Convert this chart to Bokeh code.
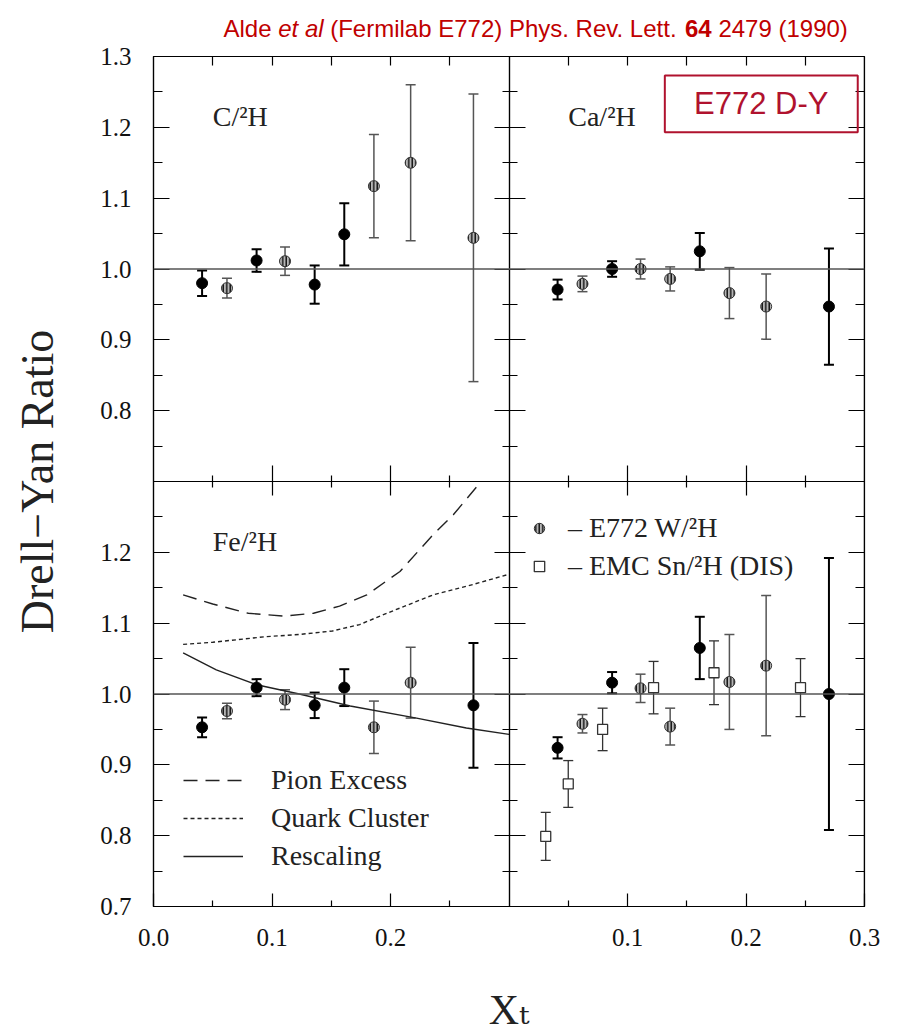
import numpy as np
from bokeh.plotting import figure
from bokeh.layouts import column
from bokeh.models import (Range1d, LinearAxis, FixedTicker, PrintfTickFormatter, Span,
                          Whisker, TeeHead, ColumnDataSource, Label, BoxAnnotation,
                          Legend, LegendItem)
from bokeh.core.properties import value
from bokeh.embed import file_html
from bokeh.resources import INLINE

# ---------------- data ----------------
xt_bins = [0.041, 0.062, 0.087, 0.111, 0.136, 0.161, 0.186, 0.217, 0.270]

c_ratio = [0.980, 0.973, 1.012, 1.011, 0.978, 1.049, 1.117, 1.150, 1.044]
c_err = [0.018, 0.014, 0.016, 0.020, 0.027, 0.044, 0.073, 0.110, 0.203]
c_kind = ["filled", "hatched", "filled", "hatched", "filled", "filled", "hatched", "hatched", "hatched"]

ca_ratio = [0.971, 0.979, 1.000, 1.000, 0.986, 1.025, 0.966, 0.947, 0.947]
ca_err = [0.014, 0.011, 0.011, 0.014, 0.017, 0.026, 0.036, 0.046, 0.082]
ca_kind = ["filled", "hatched", "filled", "hatched", "hatched", "filled", "hatched", "hatched", "filled"]

fe_ratio = [0.953, 0.976, 1.009, 0.992, 0.984, 1.009, 0.953, 1.016, 0.984]
fe_err = [0.014, 0.011, 0.012, 0.014, 0.018, 0.026, 0.037, 0.050, 0.088]
fe_kind = ["filled", "hatched", "filled", "hatched", "filled", "filled", "hatched", "hatched", "filled"]

w_ratio = [0.924, 0.958, 1.016, 1.008, 0.954, 1.065, 1.017, 1.040, 1.000]
w_err = [0.015, 0.013, 0.015, 0.020, 0.026, 0.044, 0.067, 0.099, 0.192]
w_kind = ["filled", "hatched", "filled", "hatched", "hatched", "filled", "hatched", "hatched", "filled"]

emc_xt = [0.031, 0.050, 0.079, 0.122, 0.173, 0.246]
emc_ratio = [0.799, 0.873, 0.950, 1.009, 1.030, 1.009]
emc_err = [0.034, 0.033, 0.030, 0.037, 0.045, 0.041]

pion_xt = [0.025, 0.05, 0.08, 0.11, 0.135, 0.157, 0.18, 0.208, 0.236, 0.253, 0.273]
pion_ratio = [1.140, 1.127, 1.114, 1.110, 1.114, 1.124, 1.140, 1.173, 1.225, 1.253, 1.293]
quark_xt = [0.025, 0.05, 0.095, 0.123, 0.151, 0.174, 0.194, 0.236, 0.264, 0.30]
quark_ratio = [1.070, 1.073, 1.081, 1.084, 1.089, 1.098, 1.112, 1.140, 1.152, 1.169]
resc_xt = [0.025, 0.053, 0.087, 0.123, 0.166, 0.222, 0.264, 0.30]
resc_ratio = [1.058, 1.034, 1.013, 1.000, 0.983, 0.966, 0.952, 0.943]

y_ticks_top = [0.8, 0.9, 1.0, 1.1, 1.2, 1.3]
y_ticks_bottom = [0.7, 0.8, 0.9, 1.0, 1.1, 1.2]
y_ticks_all = [0.7, 0.8, 0.9, 1.0, 1.1, 1.2, 1.3]
y_minor = [0.75, 0.85, 0.95, 1.05, 1.15, 1.25]
x_ticks_left = [0.0, 0.1, 0.2]
x_ticks_right = [0.1, 0.2, 0.3]
x_ticks_inner = [0.1, 0.2]
x_minor = [0.05, 0.15, 0.25]

panel_names = ["C/²H", "Ca/²H", "Fe/²H"]
citation = ["Alde", "et al", "(Fermilab E772) Phys. Rev. Lett.", "64", "2479 (1990)"]
citation_style = ["normal", "italic", "normal", "bold", "normal"]
legend_theory = ["Pion Excess", "Quark Cluster", "Rescaling"]
legend_data = ["– E772 W/²H", "– EMC Sn/²H (DIS)"]

SERIF = "Liberation Serif"
PANEL_SHIFT_X = 0.3   # right panels sit 0.3 further along the shared x scale
PANEL_SHIFT_Y = 0.6   # top panels sit 0.6 higher on the shared y scale
FRAME_L, FRAME_W, FRAME_R = 153, 711, 36

# ---------------- citation strip (x in page pixels) ----------------
cite_fig = figure(frame_width=FRAME_W, frame_height=44,
                  min_border_left=FRAME_L, min_border_right=FRAME_R,
                  min_border_top=0, min_border_bottom=0,
                  x_range=Range1d(FRAME_L, FRAME_L + FRAME_W), y_range=Range1d(0, 44),
                  x_axis_type=None, y_axis_type=None, toolbar_location=None,
                  output_backend="svg", outline_line_color=None)
cite_fig.text(x=[223, 277.7, 329.7, 684.5, 717.9], y=[16] * 5,
              text=citation, text_font_style=citation_style,
              text_font=value("Liberation Sans"), text_font_size="24px",
              text_color="#C00000", text_baseline="alphabetic", text_align="left")

# ---------------- main figure ----------------
p = figure(frame_width=FRAME_W, frame_height=850, min_border_left=FRAME_L,
           min_border_right=FRAME_R, min_border_top=12, min_border_bottom=128,
           x_range=Range1d(0, 0.6), y_range=Range1d(0.7, 1.9),
           x_axis_type=None, y_axis_type=None, toolbar_location=None,
           output_backend="svg", outline_line_color="black", outline_line_width=1.2,
           background_fill_color="white", border_fill_color="white")
p.extra_x_ranges = {"right": Range1d(-0.3, 0.3)}
p.extra_y_ranges = {"top": Range1d(0.1, 1.3)}


def axis(side, ticks, minor, tin, tout, mtin, mtout, xr="default", yr="default",
         fixed=None, labels=False, standoff=22, overrides=None):
    ax = LinearAxis(ticker=FixedTicker(ticks=ticks, minor_ticks=minor),
                    formatter=PrintfTickFormatter(format="%.1f"),
                    x_range_name=xr, y_range_name=yr, fixed_location=fixed,
                    major_tick_in=tin, major_tick_out=tout,
                    minor_tick_in=mtin, minor_tick_out=mtout,
                    axis_line_color="black", axis_line_width=1.2,
                    major_tick_line_color="black", major_tick_line_width=1.2,
                    minor_tick_line_color="black", minor_tick_line_width=1.2)
    if labels:
        ax.major_label_text_font = SERIF
        ax.major_label_text_font_size = "25px"
        ax.major_label_text_color = "#111111"
        ax.major_label_standoff = standoff
        if overrides:
            ax.major_label_overrides = overrides
    else:
        ax.major_label_text_color = None
    p.add_layout(ax, side)
    return ax


# left edge: bottom-panel ticks plus top-panel ticks (shifted onto the shared scale)
top_pos = [round(t + PANEL_SHIFT_Y, 3) for t in y_ticks_top]
ax_l = axis("left", y_ticks_bottom + top_pos,
            y_minor + [round(t + PANEL_SHIFT_Y, 3) for t in y_minor],
            16, 0, 9, 0, labels=True,
            overrides={pos: f"{t:.1f}" for pos, t in zip(top_pos, y_ticks_top)})
ax_l.axis_label = "Drell−Yan Ratio"
ax_l.axis_label_text_font = SERIF
ax_l.axis_label_text_font_size = "46px"
ax_l.axis_label_text_font_style = "normal"
ax_l.axis_label_text_color = "#222222"
ax_l.axis_label_standoff = 34

# bottom edge: left-panel ticks plus right-panel ticks
right_pos = [round(t + PANEL_SHIFT_X, 3) for t in x_ticks_right]
ax_b = axis("below", x_ticks_left + right_pos,
            x_minor + [round(t + PANEL_SHIFT_X, 3) for t in x_minor],
            13, 0, 6, 0, labels=True, standoff=22,
            overrides={pos: f"{t:.1f}" for pos, t in zip(right_pos, x_ticks_right)})
ax_b.axis_label = "Xₜ"
ax_b.axis_label_text_font = "Liberation Serif, DejaVu Serif"
ax_b.axis_label_text_font_size = "42px"
ax_b.axis_label_text_font_style = "normal"
ax_b.axis_label_text_color = "#222222"
ax_b.axis_label_standoff = 38

# middle vertical divider
axis("right", y_ticks_all, y_minor, 15, 16, 7, 8, fixed=0.3)
axis("right", y_ticks_all, y_minor, 15, 16, 7, 8, yr="top", fixed=0.3)
# right edge
axis("right", y_ticks_all, y_minor, 16, 0, 9, 0, fixed=0.6)
axis("right", y_ticks_all, y_minor, 16, 0, 9, 0, yr="top", fixed=0.6)
# top edge
axis("above", x_ticks_inner, x_minor, 9, 0, 9, 0, fixed=1.9)
axis("above", x_ticks_inner, x_minor, 9, 0, 9, 0, xr="right", fixed=1.9)
# middle horizontal divider
axis("below", x_ticks_inner, x_minor, 16, 14, 6, 6, fixed=1.3)
axis("below", x_ticks_inner, x_minor, 16, 14, 6, 6, xr="right", fixed=1.3)

# unity lines
p.add_layout(Span(location=1.0, dimension="width", line_color="#555555", line_width=1.5))
p.add_layout(Span(location=1.0, dimension="width", y_range_name="top",
                  line_color="#555555", line_width=1.5))

# theory curves (Fe panel, bottom-left)
r_pion = p.line(pion_xt, pion_ratio, line_color="#222222", line_width=1.4, line_dash="14 8")
r_quark = p.line(quark_xt, quark_ratio, line_color="#222222", line_width=1.4, line_dash="4 3")
r_resc = p.line(resc_xt, resc_ratio, line_color="#222222", line_width=1.4)

STYLE = {
    "filled": dict(fill_color="black", line_color="black"),
    "hatched": dict(fill_color="#b5b5b5", line_color="#333333", hatch_pattern="vertical_line",
                    hatch_color="black", hatch_scale=3.5, hatch_weight=1.3),
}
BAR = {"filled": dict(color="black", width=2.0), "hatched": dict(color="#555555", width=1.5)}


def panel(xs, ratio, err, kind, xr, yr):
    xs = np.asarray(xs)
    ratio = np.asarray(ratio)
    err = np.asarray(err)
    kind = np.asarray(kind)
    rends = {}
    for k in ["hatched", "filled"]:
        m = kind == k
        src = ColumnDataSource(dict(x=xs[m], y=ratio[m], up=ratio[m] + err[m], lo=ratio[m] - err[m]))
        b = BAR[k]
        p.add_layout(Whisker(source=src, base="x", upper="up", lower="lo", dimension="height",
                             line_color=b["color"], line_width=b["width"],
                             upper_head=TeeHead(size=10, line_color=b["color"], line_width=b["width"]),
                             lower_head=TeeHead(size=10, line_color=b["color"], line_width=b["width"]),
                             x_range_name=xr, y_range_name=yr))
        rends[k] = p.scatter("x", "y", source=src, marker="circle", size=11,
                             x_range_name=xr, y_range_name=yr, **STYLE[k])
    return rends


panel(xt_bins, c_ratio, c_err, c_kind, "default", "top")
panel(xt_bins, ca_ratio, ca_err, ca_kind, "right", "top")
panel(xt_bins, fe_ratio, fe_err, fe_kind, "default", "default")
w_r = panel(xt_bins, w_ratio, w_err, w_kind, "right", "default")

emc_x = np.asarray(emc_xt)
emc_y = np.asarray(emc_ratio)
emc_e = np.asarray(emc_err)
emc_src = ColumnDataSource(dict(x=emc_x, y=emc_y, up=emc_y + emc_e, lo=emc_y - emc_e))
p.add_layout(Whisker(source=emc_src, base="x", upper="up", lower="lo",
                     line_color="#333333", line_width=1.3,
                     upper_head=TeeHead(size=10, line_color="#333333", line_width=1.3),
                     lower_head=TeeHead(size=10, line_color="#333333", line_width=1.3),
                     x_range_name="right"))
r_emc = p.scatter("x", "y", source=emc_src, marker="square", size=10, fill_color="white",
                  line_color="#333333", line_width=1.3, x_range_name="right")

# panel names
for name, xr, yr in zip(panel_names, ["default", "right", "default"], ["top", "top", "default"]):
    p.add_layout(Label(x=0.05, y=1.215, x_range_name=xr, y_range_name=yr, text=name,
                       text_font=SERIF, text_font_size="28px", text_color="#222222",
                       text_baseline="alphabetic"))

# legends
leg1 = Legend(items=[LegendItem(label=value(t), renderers=[r])
                     for t, r in zip(legend_theory, [r_pion, r_quark, r_resc])],
              location=(30, 34), glyph_width=60, glyph_height=30, label_height=30,
              label_standoff=28, spacing=6, padding=0, margin=0,
              label_text_font=SERIF, label_text_font_size="28px", label_text_color="#222222",
              border_line_color=None, background_fill_alpha=0)
p.add_layout(leg1)
leg2 = Legend(items=[LegendItem(label=value(t), renderers=[r])
                     for t, r in zip(legend_data, [w_r["hatched"], r_emc])],
              location=(373, 324), glyph_width=26, glyph_height=30, label_height=30,
              label_standoff=16, spacing=6, padding=0, margin=0,
              label_text_font=SERIF, label_text_font_size="28px", label_text_color="#222222",
              border_line_color=None, background_fill_alpha=0)
p.add_layout(leg2)

# E772 D-Y box
RED_BOX = "#B0122E"
p.add_layout(BoxAnnotation(left=0.1315, right=0.2943, top=1.2732, bottom=1.1931,
                           x_range_name="right", y_range_name="top",
                           fill_color=None, fill_alpha=0, line_color=RED_BOX,
                           line_alpha=1.0, line_width=2))
p.add_layout(Label(x=0.2129, y=1.2332, x_range_name="right", y_range_name="top",
                   text="E772 D-Y", text_font="Liberation Sans", text_font_size="31px",
                   text_color=RED_BOX, text_align="center", text_baseline="middle"))

layout = column(cite_fig, p, spacing=0)
open("out.html", "w").write(file_html(layout, INLINE))
